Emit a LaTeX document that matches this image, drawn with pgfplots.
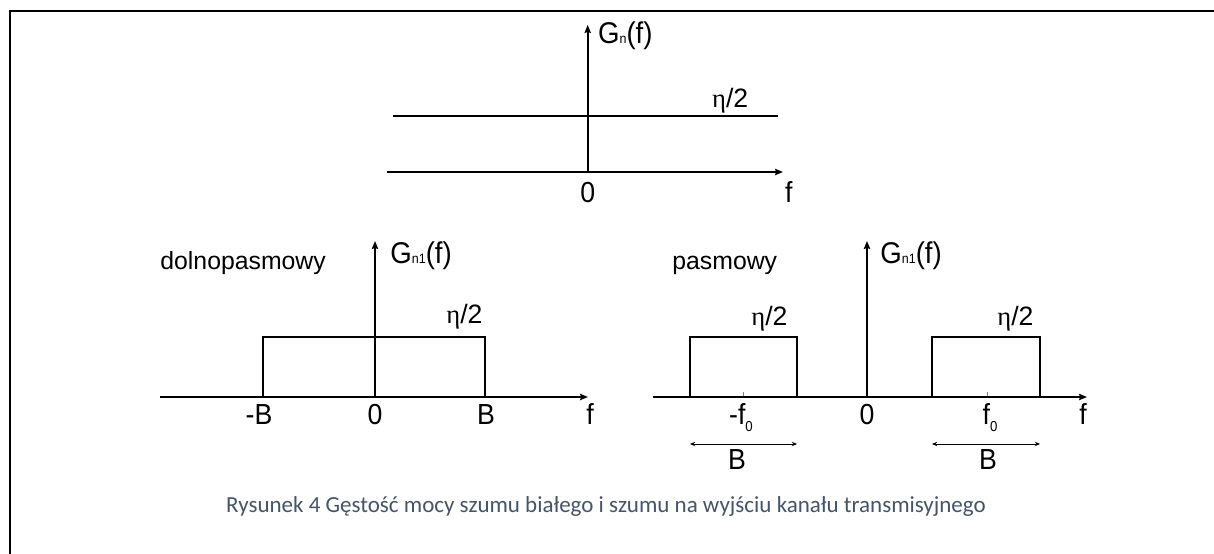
\documentclass[border=0pt]{standalone}
\usepackage{pgfplots}
\pgfplotsset{compat=1.18}
\usetikzlibrary{arrows.meta}
\usepackage{fontspec}
\setmainfont{Liberation Sans}
\newfontfamily\tallsans{Liberation Sans}[FakeStretch=0.92]
\newfontfamily\greekfont{Liberation Serif}
\newfontfamily\capfont{Carlito}
\definecolor{captioncol}{RGB}{68,84,106}

% label fonts
\newcommand{\funcfont}{\tallsans\fontsize{15}{17}\selectfont}
\newcommand{\tickfont}{\tallsans\fontsize{14.5}{16}\selectfont}
\newcommand{\levelfont}{\fontsize{13.3}{15}\selectfont}
\newcommand{\wordfont}{\fontsize{12.4}{14}\selectfont}
\newcommand{\sub}[1]{{\fontsize{6.8}{6.8}\selectfont #1}}
\newcommand{\lowsub}[1]{\raisebox{-0.25em}{\fontsize{7.2}{7.2}\selectfont #1}}
\newcommand{\half}{{\greekfont η}/2}

\tikzset{
  lbl/.style={inner sep=0pt},
  func/.style={lbl, font=\funcfont, anchor=base west},
  tick/.style={lbl, font=\tickfont, anchor=base},
  level/.style={lbl, font=\levelfont, anchor=base west},
  word/.style={lbl, font=\wordfont, anchor=base west},
}

\pgfplotsset{
  diagram/.style={
    x=0.5pt, y=0.5pt,
    axis lines=middle,
    enlargelimits=false,
    clip=false,
    xtick=\empty, ytick=\empty,
    axis line style={line width=1pt, -{Stealth[length=4pt,width=3.2pt,inset=0.6pt]}},
    anchor=south west,
  },
  spectrum/.style={line width=1.35pt, black, no markers},
  bandarrow/.style={line width=0.5pt, black, no markers, {Stealth[length=2.6pt,width=2.2pt]}-{Stealth[length=2.6pt,width=2.2pt]}},
}

\begin{document}
\begin{tikzpicture}
\useasboundingbox (0,0) rectangle (607pt,276.5pt);
% frame
\draw[line width=1.1pt] (5pt,-2pt) -- (5pt,271pt) -- (610pt,271pt);

% white noise: flat spectrum
\begin{axis}[diagram, at={(193.5pt,190.5pt)},
  xmin=-200.7, xmax=195.3, ymin=0, ymax=147]
  \addplot[spectrum, line width=1pt] coordinates {(-195,56) (190,56)};
  \node[func] at (axis cs:10,128) {G\sub{n}(f)};
  \node[level] at (axis cs:124,65) {\half};
  \node[tick] at (axis cs:0,-30) {0};
  \node[tick] at (axis cs:201,-30) {f};
\end{axis}

% low-pass channel
\begin{axis}[diagram, at={(80pt,78pt)},
  xmin=-215, xmax=213, ymin=0, ymax=156]
  \addplot[spectrum] coordinates {(-112,0) (-112,60) (110,60) (110,0)};
  \node[word] at (axis cs:-215,128) {dolnopasmowy};
  \node[func] at (axis cs:15,134) {G\sub{n1}(f)};
  \node[level] at (axis cs:71,74) {\half};
  \node[tick] at (axis cs:-116,-27) {-B};
  \node[tick] at (axis cs:0,-27) {0};
  \node[tick] at (axis cs:111,-27) {B};
  \node[tick] at (axis cs:215,-27) {f};
\end{axis}

% band-pass channel
\begin{axis}[diagram, at={(326.5pt,78pt)},
  xmin=-214, xmax=220, ymin=0, ymax=156,
  xtick={-124,120}, xticklabels={},
  tick align=inside, major tick length=2.5pt,
  xtick style={gray, line width=0.5pt}]
  \addplot[spectrum] coordinates {(-177,0) (-177,60) (-70,60) (-70,0)};
  \addplot[spectrum] coordinates {(65,0) (65,60) (173,60) (173,0)};
  \addplot[bandarrow] coordinates {(-177,-47) (-70,-47)};
  \addplot[bandarrow] coordinates {(65,-47) (173,-47)};
  \node[word] at (axis cs:-195,128) {pasmowy};
  \node[func] at (axis cs:13,134) {G\sub{n1}(f)};
  \node[level] at (axis cs:-116,72) {\half};
  \node[level] at (axis cs:130,72) {\half};
  \node[tick] at (axis cs:-126,-27) {-f\lowsub{0}};
  \node[tick] at (axis cs:0,-27) {0};
  \node[tick] at (axis cs:123,-27) {f\lowsub{0}};
  \node[tick] at (axis cs:216,-27) {f};
  \node[tick] at (axis cs:-130,-72) {B};
  \node[tick] at (axis cs:121,-72) {B};
\end{axis}

% caption
\node[font=\capfont\fontsize{11.5}{13}\selectfont, text=captioncol, anchor=base, inner sep=0pt]
  at (303pt,20.5pt) {Rysunek 4 Gęstość mocy szumu białego i szumu na wyjściu kanału transmisyjnego};
\end{tikzpicture}
\end{document}
